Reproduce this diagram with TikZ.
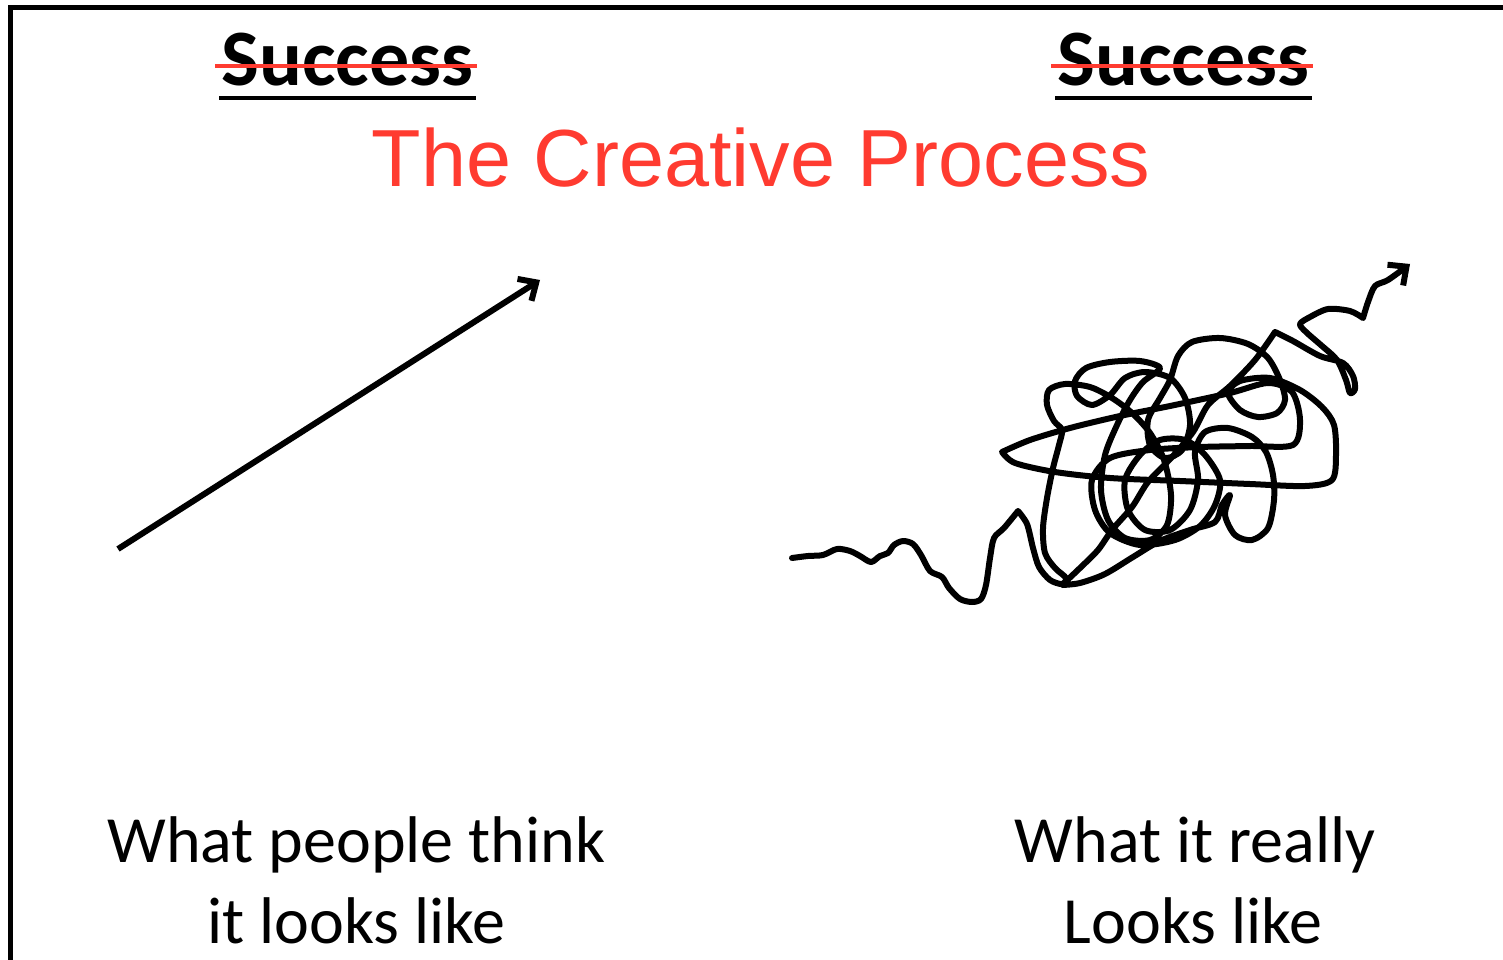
\documentclass[tikz,border=0pt]{standalone}
\usepackage{fontspec}
\setmainfont{Carlito}
\newfontfamily\arialfont{Liberation Sans}
\usetikzlibrary{arrows.meta,calc}
\definecolor{titlered}{RGB}{255,59,48}
\begin{document}
\begin{tikzpicture}[x=1pt,y=-1pt,
  frame/.style={line width=5pt,line join=miter},
  heading/.style={inner sep=0pt,anchor=base,font=\fontsize{80}{96}\selectfont\bfseries},
  caption/.style={inner sep=0pt,anchor=base,font=\fontsize{66}{80}\selectfont},
  title/.style={inner sep=0pt,anchor=base,text=titlered,font=\arialfont\fontsize{81}{97}\selectfont},
  underbar/.style={line width=4.5pt},
  strike/.style={line width=3.5pt,draw=titlered},
  pen/.style={line width=6pt,line join=round,line cap=round},
  tip/.style={-{Straight Barb[length=14pt,width=26pt]}}
]
\useasboundingbox (0,0) rectangle (1503,960);
\fill[white] (0,0) rectangle (1503,960);
\draw[frame] (10.5,960) -- (10.5,7.5) -- (1503,7.5);

% crossed-out headings
\node[heading] (s1) at (347.5,86) {Success};
\node[heading] (s2) at (1183.5,86) {Success};
\foreach \s in {s1,s2}{
  \draw[underbar] ($(\s.base west)+(-2,12)$) -- ($(\s.base east)+(2,12)$);
  \draw[strike] ($(\s.base west)+(-6,-20)$) -- ($(\s.base east)+(3,-20)$);
}

% title
\node[title] (t) at (761,186) {The Creative Process};

% captions
\node[caption] (c1) at (356.5,862) {What people think};
\node[caption] (c2) at (356.5,943) {it looks like};
\node[caption] (c3) at (1195,862) {What it really};
\node[caption] (c4) at (1193,943) {Looks like};

% the straight road
\coordinate (a0) at (118,549);
\coordinate (a1) at (540,280);
\draw[pen,line cap=butt,tip] (a0) -- (a1);

% the real road
\draw[pen,tip]
  plot[smooth] coordinates {(792,558) (808,556) (823,555) (837,549) (850,551) (860,556)
    (871,562) (880,556) (888,553) (894,545) (903,541) (913,544) (921,555) (930,571)
    (942,577) (949,588) (960,599) (972,602) (981,599) (986,585) (990,558) (994,538)
    (1004,528) (1018,511)}
  -- plot[smooth] coordinates {(1018,511) (1027,524) (1033,548) (1039,567) (1050,580)
    (1062,584) (1066,578) (1055,568) (1045,553) (1043,528) (1047,498) (1053,468)
    (1059,445) (1062,430) (1054,421) (1047,405) (1049,390) (1065,384) (1090,387)
    (1112,398) (1132,413) (1150,433) (1164,460) (1171,495) (1167,525) (1150,540)
    (1125,538) (1108,520) (1101,490) (1105,455) (1117,425) (1130,400) (1143,382)
    (1160,368) (1140,361) (1110,362) (1086,368) (1075,381) (1077,396) (1092,405)
    (1110,395) (1125,378) (1145,372) (1170,378) (1185,398) (1190,425) (1182,450)
    (1165,458) (1150,445) (1148,420) (1160,398) (1170,380) (1178,356) (1192,342)
    (1220,338) (1248,344) (1268,358) (1280,380) (1285,400) (1277,413) (1258,417)
    (1240,410) (1228,393) (1240,381) (1270,378) (1300,390) (1322,407) (1334,425)
    (1336,455) (1332,480) (1305,486) (1250,484) (1180,481) (1110,478) (1055,472)
    (1015,463) (1002,452)}
  -- plot[smooth] coordinates {(1002,452) (1030,440) (1070,428) (1120,416) (1170,406)
    (1230,393) (1268,383) (1292,392) (1300,420) (1293,445) (1250,446) (1200,447)
    (1150,450) (1110,458) (1092,480) (1095,510) (1110,533) (1140,545) (1175,540)
    (1200,526) (1215,505) (1220,480) (1205,455) (1185,440) (1160,440) (1140,455)
    (1125,480) (1128,510) (1145,530) (1170,530) (1190,510) (1198,480) (1195,452)
    (1205,432) (1228,428) (1252,437) (1266,452) (1273,475)
    (1274,500) (1268,528) (1252,540) (1235,535) (1225,515) (1230,495) (1222,505)
    (1215,522) (1190,530) (1160,541) (1133,557) (1105,574) (1080,583) (1062,585)}
  -- plot[smooth] coordinates {(1062,585) (1080,568) (1098,550) (1112,530) (1132,507)
    (1148,482) (1172,457) (1193,432) (1208,405) (1230,386) (1255,360) (1275,332)}
  -- plot[smooth] coordinates {(1275,332) (1293,341) (1320,356) (1343,363) (1353,376)
    (1355,389) (1350,393) (1346,380) (1337,360) (1322,346) (1306,332) (1300,324)
    (1310,317) (1328,309) (1350,311) (1363,318)}
  -- plot[smooth] coordinates {(1363,318) (1368,302) (1375,286) (1388,280) (1410,264)};
\end{tikzpicture}
\end{document}
